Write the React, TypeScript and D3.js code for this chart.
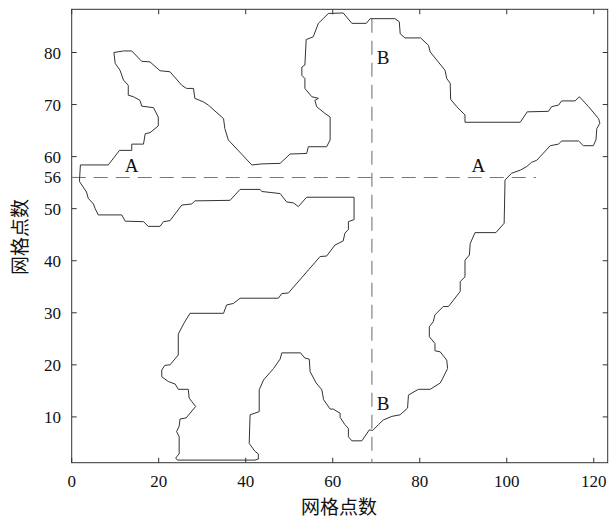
import * as d3 from 'd3';

const W = 610, H = 519;
const X0 = 71.7, X1 = 607.7, Y0 = 462.7, Y1 = 9.3;

// outline traced on the grid (x, y in grid points)
const outlineX = [
  2, 8.4, 11, 13.8, 13.8, 16.5, 16.9, 18, 19.9, 19.9, 18.8, 16.1, 15.7, 14.2, 13, 13, 11.9, 11.1, 10, 9.7,
  11.9, 13.8, 16.1, 18, 20.3, 22.6, 25.3, 26.4, 28, 28.3, 30.3, 31.4, 34.9, 35.2, 36, 41.4, 43.7, 47.9, 50.2, 54,
  54.4, 58.6, 59.4, 59.4, 58.2, 56.3, 55.9, 56.7, 55.2, 53.6, 53.6, 52.9, 52.9, 53.6, 53.9, 55.5, 56.7, 57.8, 59, 62.4,
  64.4, 67.7, 68.6, 74.3, 75.3, 75.5, 76.6, 80.2, 82, 82.4, 85.8, 86.2, 87, 87.1, 88.5, 90.4, 90.4, 103.1, 104.7, 109.6,
  110.3, 111.9, 112.6, 115.7, 116.7, 118.8, 121.1, 121.4, 120.7, 120.5, 119.9, 117.6, 116.5, 112.6, 111.9, 110, 106.9, 105.7, 104.6, 103.1,
  101.1, 99.6, 99.4, 97.5, 92.7, 91.6, 91.4, 90.4, 90.4, 89.3, 89.3, 86.6, 85.4, 83.5, 83.1, 82.2, 82.2, 83.5, 83.5, 84.7,
  86.2, 86.4, 85.1, 84.7, 82.4, 79.7, 77.4, 77.2, 75.5, 73.6, 71.6, 70.5, 69.2, 68.4, 66.7, 64.4, 63.6, 63.6, 62.8, 61.7,
  61.7, 60.1, 59.4, 57.9, 57.5, 56.2, 54.8, 54.6, 53.6, 52.6, 48.3, 47.9, 46.4, 44.1, 43.1, 43.1, 41, 40.8, 42.1, 42.9,
  42.9, 42.1, 24.3, 23.9, 24.7, 24.7, 24.1, 24.7, 24.9, 26.3, 28.5, 27, 26.8, 24.5, 23.8, 22.2, 20.7, 20.7, 21.4, 22.6,
  24.5, 24.5, 25.8, 27.2, 34.9, 35.6, 37.2, 38.7, 47.5, 48.3, 49.8, 57.1, 58.6, 60.5, 62.4, 62.8, 63.6, 63.6, 64.9, 64.9,
  54, 52.1, 51, 49.4, 47.9, 43.7, 43.3, 38.7, 36.4, 28.3, 27.6, 25.3, 22.6, 21.1, 20.3, 17.6, 16.5, 12.3, 11.5, 6.1,
  5.4, 5, 3.8, 3.4, 1.8, 1.8,
];
const outlineY = [
  58.4, 58.4, 61.2, 61.2, 62.4, 62.4, 64.4, 64.6, 65.9, 67.6, 69.4, 69.7, 70.8, 71.5, 71.8, 73.7, 74.7, 76.6, 77.9, 80,
  80.3, 80.3, 78.3, 78.2, 76.5, 76.3, 73.7, 73.1, 73.1, 71.2, 70.5, 69.9, 67.3, 65.4, 63.2, 58.4, 58.6, 58.7, 60.5, 60.6,
  61.9, 61.9, 63.2, 67.6, 68.3, 69.6, 70.8, 71.2, 71.5, 73.1, 75, 75.6, 77.2, 77.6, 82.5, 83, 85.6, 86.5, 87.5, 87.6,
  85.6, 85.6, 86.5, 86.5, 85.9, 83.6, 82.8, 82.8, 81.4, 80.1, 76.6, 75, 74.1, 71, 69.6, 68, 66.6, 66.6, 68.6, 68.7,
  69.6, 69.9, 70.7, 70.7, 71.5, 69.6, 67.3, 66.4, 65.4, 63.2, 62.1, 62.1, 63, 63, 62.4, 62.1, 59.3, 58.9, 58.1, 57.4,
  56.8, 55.5, 47.2, 45.4, 45.4, 43.3, 41.1, 40.1, 36.9, 36, 34.1, 31.2, 31.2, 29.6, 28.3, 27.3, 25.4, 24.1, 22.7, 22.5,
  20.9, 19.3, 17.1, 16.5, 15.3, 15.3, 14.2, 11.7, 10.4, 10.1, 9.4, 8.5, 7.4, 7.5, 5.4, 5.4, 6.2, 7.8, 8.5, 9.9,
  10.7, 11.5, 11.5, 13.3, 15.2, 16.5, 18.7, 21.1, 21.3, 22.3, 22.3, 21.1, 19.3, 17.1, 15.2, 11, 10.4, 4.9, 3.4, 2.9,
  1.9, 1.7, 1.7, 2.1, 2.9, 6.2, 7.2, 8.2, 9.6, 9.8, 12, 13.6, 15.3, 15.3, 16.3, 16.8, 17.7, 19, 19.9, 20,
  21.9, 25.9, 28, 29.9, 29.9, 31.5, 31.8, 32.8, 32.8, 33.7, 33.8, 40.8, 40.9, 43, 43.8, 45.3, 46, 47.5, 47.9, 52.2,
  52.2, 50.4, 51.1, 51.3, 52.9, 53.3, 53.7, 53.7, 51.6, 51.5, 50.9, 50.7, 47.7, 47.5, 46.6, 46.6, 47.5, 47.6, 48.8, 48.8,
  50, 50.9, 52, 53.2, 55.2, 55.5,
];

const xTicks = [0, 20, 40, 60, 80, 100, 120];
const yTicks = [10, 20, 30, 40, 50, 56, 60, 70, 80];
const yTicksRight = [10, 20, 30, 40, 50, 60, 70, 80];

// section lines: A-A at row 56, B-B at column 69
const sectionRow = 56;
const sectionRowEnd = 106.7;
const sectionCol = 69;
const sectionColTop = 86.5;

const labels = [
  { t: 'A', x: 13.8, y: 58.3 },
  { t: 'A', x: 93.5, y: 58.3 },
  { t: 'B', x: 71.6, y: 79.2 },
  { t: 'B', x: 71.6, y: 12.7 },
];

const axisTitle = '网格点数';

export default function App() {
  const x = d3.scaleLinear().domain([0, 123.2]).range([X0, X1]);
  const y = d3.scaleLinear().domain([1.2, 88.3]).range([Y0, Y1]);

  const pts: [number, number][] = outlineX.map((v, i) => [v, outlineY[i]]);
  const outline = d3.line<[number, number]>()
    .x((d) => x(d[0]))
    .y((d) => y(d[1]))
    .curve(d3.curveLinearClosed)(pts) || '';

  const serif = '"Liberation Serif", "Times New Roman", serif';
  const cjk = '"Noto Sans CJK SC", sans-serif';
  const ink = '#333';
  const tl = 5;

  return (
    <svg width={W} height={H} style={{ position: 'absolute', left: 0, top: 0, background: '#fff' }}>
      <rect x={0} y={0} width={W} height={H} fill="#fff" />
      {/* frame */}
      <rect x={X0} y={Y1} width={X1 - X0} height={Y0 - Y1} fill="none" stroke={ink} strokeWidth={1} />
      {xTicks.map((t) => (
        <g key={'xt' + t}>
          <line x1={x(t)} x2={x(t)} y1={Y0} y2={Y0 - tl} stroke={ink} />
          <line x1={x(t)} x2={x(t)} y1={Y1} y2={Y1 + tl} stroke={ink} />
          <text x={x(t)} y={487} textAnchor="middle" fontFamily={serif} fontSize={17} fill="#111">{t}</text>
        </g>
      ))}
      {yTicks.map((t) => (
        <g key={'yt' + t}>
          <line x1={X0} x2={X0 + tl} y1={y(t)} y2={y(t)} stroke={ink} />
          <text x={61} y={y(t) + 6} textAnchor="end" fontFamily={serif} fontSize={17} fill="#111">{t}</text>
        </g>
      ))}
      {yTicksRight.map((t) => (
        <line key={'yr' + t} x1={X1} x2={X1 - tl} y1={y(t)} y2={y(t)} stroke={ink} />
      ))}

      {/* section lines */}
      <line x1={x(0)} x2={x(sectionRowEnd)} y1={y(sectionRow)} y2={y(sectionRow)}
        stroke="#777" strokeWidth={1.1} strokeDasharray="14,8" />
      <line x1={x(sectionCol)} x2={x(sectionCol)} y1={y(sectionColTop)} y2={Y0}
        stroke="#777" strokeWidth={1.1} strokeDasharray="14,8" />

      {/* outline */}
      <path d={outline} fill="none" stroke={ink} strokeWidth={1} />

      {labels.map((l, i) => (
        <text key={'l' + i} x={x(l.x)} y={y(l.y) + 7} textAnchor="middle" fontFamily={serif} fontSize={19} fill="#111">{l.t}</text>
      ))}

      <text x={339} y={514} textAnchor="middle" fontFamily={cjk} fontSize={19} fill="#111">{axisTitle}</text>
      <text transform="translate(27,237) rotate(-90)" textAnchor="middle" fontFamily={cjk} fontSize={19} fill="#111">{axisTitle}</text>
    </svg>
  );
}
